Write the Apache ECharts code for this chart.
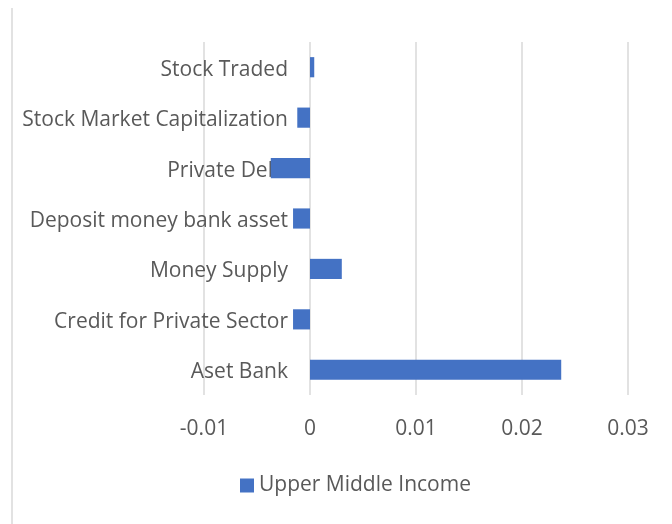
<!DOCTYPE html>
<html>
<head>
<meta charset="utf-8">
<script src="https://cdn.jsdelivr.net/npm/echarts@6/dist/echarts.min.js"></script>
<style>html,body{margin:0;padding:0;background:#fff}#c{width:672px;height:524px}</style>
</head>
<body>
<div id="c"></div>
<script>
const categories = ["Aset Bank", "Credit for Private Sector", "Money Supply", "Deposit money bank asset", "Private Debt", "Stock Market Capitalization", "Stock Traded"];
const values = [0.0237, -0.0016, 0.003, -0.0016, -0.0037, -0.0012, 0.0004];
const seriesName = "Upper Middle Income";
const xTicks = [-0.01, 0, 0.01, 0.02, 0.03];

const chart = echarts.init(document.getElementById('c'), null, {renderer: 'canvas'});
const font = "'Open Sans', 'Noto Sans', sans-serif";
chart.setOption({
  animation: false,
  backgroundColor: '#fff',
  textStyle: {fontFamily: font},
  grid: {left: 204, right: 44, top: 42, bottom: 129, containLabel: false, outerBoundsMode: 'none'},
  graphic: [{type: 'line', shape: {x1: 12, y1: 8, x2: 12, y2: 524}, style: {stroke: '#D9D9D9', lineWidth: 1.5}}],
  xAxis: {
    type: 'value', min: xTicks[0], max: xTicks[xTicks.length - 1], interval: 0.01,
    axisLine: {show: false}, axisTick: {show: false},
    splitLine: {show: true, lineStyle: {color: '#D9D9D9', width: 1.5}},
    axisLabel: {color: '#595959', fontSize: 21, fontFamily: font, margin: 24,
      formatter: v => { const r = Math.round(v * 100) / 100; return String(r); }}
  },
  yAxis: {
    type: 'category', data: categories, offset: -106,
    axisLine: {show: false, onZero: false}, axisTick: {show: false},
    axisLabel: {color: '#595959', fontSize: 21, fontFamily: font, margin: 22,
      formatter: v => '{a|' + v + '}',
      rich: {a: {color: '#595959', fontSize: 21, fontFamily: font, padding: [5, 0, 0, 0]}}}
  },
  legend: {
    bottom: 23, left: 235, itemWidth: 14, itemHeight: 14, itemGap: 6,
    icon: 'rect',
    textStyle: {color: '#595959', fontSize: 21, fontFamily: font},
    data: [seriesName]
  },
  series: [{
    name: seriesName, type: 'bar', data: values, barWidth: '40%',
    itemStyle: {color: '#4472C4'}
  }]
});
</script>
</body>
</html>
